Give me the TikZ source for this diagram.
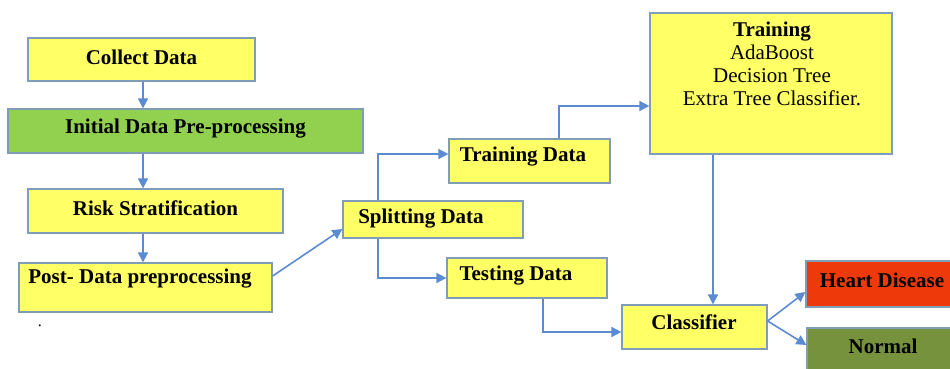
\documentclass[tikz,border=0pt]{standalone}
\usepackage{fontspec}
\setmainfont{LiberationSerif}[Extension=.ttf, UprightFont=*-Regular, BoldFont=*-Bold, ItalicFont=*-Italic, BoldItalicFont=*-BoldItalic]
\usetikzlibrary{arrows.meta,calc}
\definecolor{boxyellow}{HTML}{FFFF66}
\definecolor{boxgreen}{HTML}{92D050}
\definecolor{boxred}{HTML}{EE3A0B}
\definecolor{boxolive}{HTML}{76923C}
\definecolor{boxedge}{HTML}{7F9DB9}
\definecolor{flowblue}{HTML}{5B8BD0}
\tikzset{
  stage/.style={draw=boxedge, line width=0.6pt, fill=boxyellow, inner sep=0pt,
                font=\fontsize{10.5}{12}\selectfont\bfseries},
  caption/.style={inner sep=0pt, font=\fontsize{10.5}{12}\selectfont\bfseries},
  flow/.style={draw=flowblue, line width=0.8pt,
               -{Triangle[length=5pt,width=5pt]}},
}
\begin{document}
\begin{tikzpicture}[x=0.5pt,y=-0.5pt]
\useasboundingbox (0,0) rectangle (950,369);
\clip (0,0) rectangle (950,369);

% left column
\node[stage, minimum width=113.5pt, minimum height=21.5pt] (collect) at (141.5,59.5) {};
\node[caption] (collectT) at (141.5,57) {Collect Data};
\node[stage, fill=boxgreen, minimum width=177.5pt, minimum height=22pt] (initial) at (185.5,131) {};
\node[caption] (initialT) at (185.5,129) {Initial Data Pre-processing};
\node[stage, minimum width=127.5pt, minimum height=22pt] (risk) at (155.5,211) {};
\node[caption] (riskT) at (155.5,208) {Risk Stratification};
\node[stage, minimum width=126.5pt, minimum height=24.5pt] (post) at (145.5,287.5) {};
\node[caption] (postT) at (140,279) {Post- Data preprocessing};
\node[inner sep=0pt, font=\fontsize{8}{8}\selectfont] (dot) at (40,326) {.};

% splitting
\node[stage, minimum width=90pt, minimum height=18.5pt] (split) at (433,219.5) {};
\node[caption] (splitT) at (421,219) {Splitting Data};
\node[stage, minimum width=80.5pt, minimum height=22pt] (trainD) at (529.5,161) {};
\node[caption] (trainDT) at (523,157) {Training Data};
\node[stage, minimum width=80pt, minimum height=20pt] (testD) at (527,278) {};
\node[caption] (testDT) at (516,276) {Testing Data};

% model
\node[stage, minimum width=121pt, minimum height=70.5pt] (training) at (771,83.5) {};
\node[inner sep=0pt, align=center, anchor=north,
      font=\fontsize{10.5}{11.5}\selectfont] (trainingT) at (772,22)
      {\textbf{Training}\\AdaBoost\\Decision Tree\\Extra Tree Classifier.};
\node[stage, minimum width=72.5pt, minimum height=22pt] (classifier) at (694.5,327) {};
\node[caption] (classifierT) at (694,322) {Classifier};

% outcomes
\node[stage, fill=boxred, minimum width=77pt, minimum height=23pt] (heart) at (883,284) {};
\node[caption] (heartT) at (882,280) {Heart Disease};
\node[stage, fill=boxolive, minimum width=76.5pt, minimum height=26pt] (normal) at (883.5,354) {};
\node[caption] (normalT) at (883,346) {Normal};

% routing columns
\coordinate (c143) at (143,0);
\coordinate (c378) at (378,0);
\coordinate (c559) at (559,0);
\coordinate (c713) at (713,0);
\coordinate (c543) at (543,0);
\coordinate (tdIn) at ($(trainD.west)+(0,-7)$);
\coordinate (trIn) at ($(training.west)+(0,22.5)$);
\coordinate (clIn) at ($(classifier.west)+(0,5)$);
\coordinate (clOut) at ($(classifier.east)+(0,-6)$);

% connectors
\draw[flow] (collect.south -| c143) -- (initial.north -| c143);
\draw[flow] (initial.south -| c143) -- (risk.north -| c143);
\draw[flow] (risk.south -| c143) -- (post.north -| c143);
\draw[flow] ($(post.east)+(0,-11.5)$) -- ($(split.west)+(0,9.5)$);
\draw[flow] (split.north -| c378) |- (tdIn);
\draw[flow] (split.south -| c378) |- (testD.west);
\draw[flow] (trainD.north -| c559) |- (trIn);
\draw[flow] (training.south -| c713) -- (classifier.north -| c713);
\draw[flow] (testD.south -| c543) |- (clIn);
\draw[flow] (clOut) -- ($(heart.west)+(0,8)$);
\draw[flow] (clOut) -- ($(normal.west)+(0,-9)$);
\end{tikzpicture}
\end{document}
